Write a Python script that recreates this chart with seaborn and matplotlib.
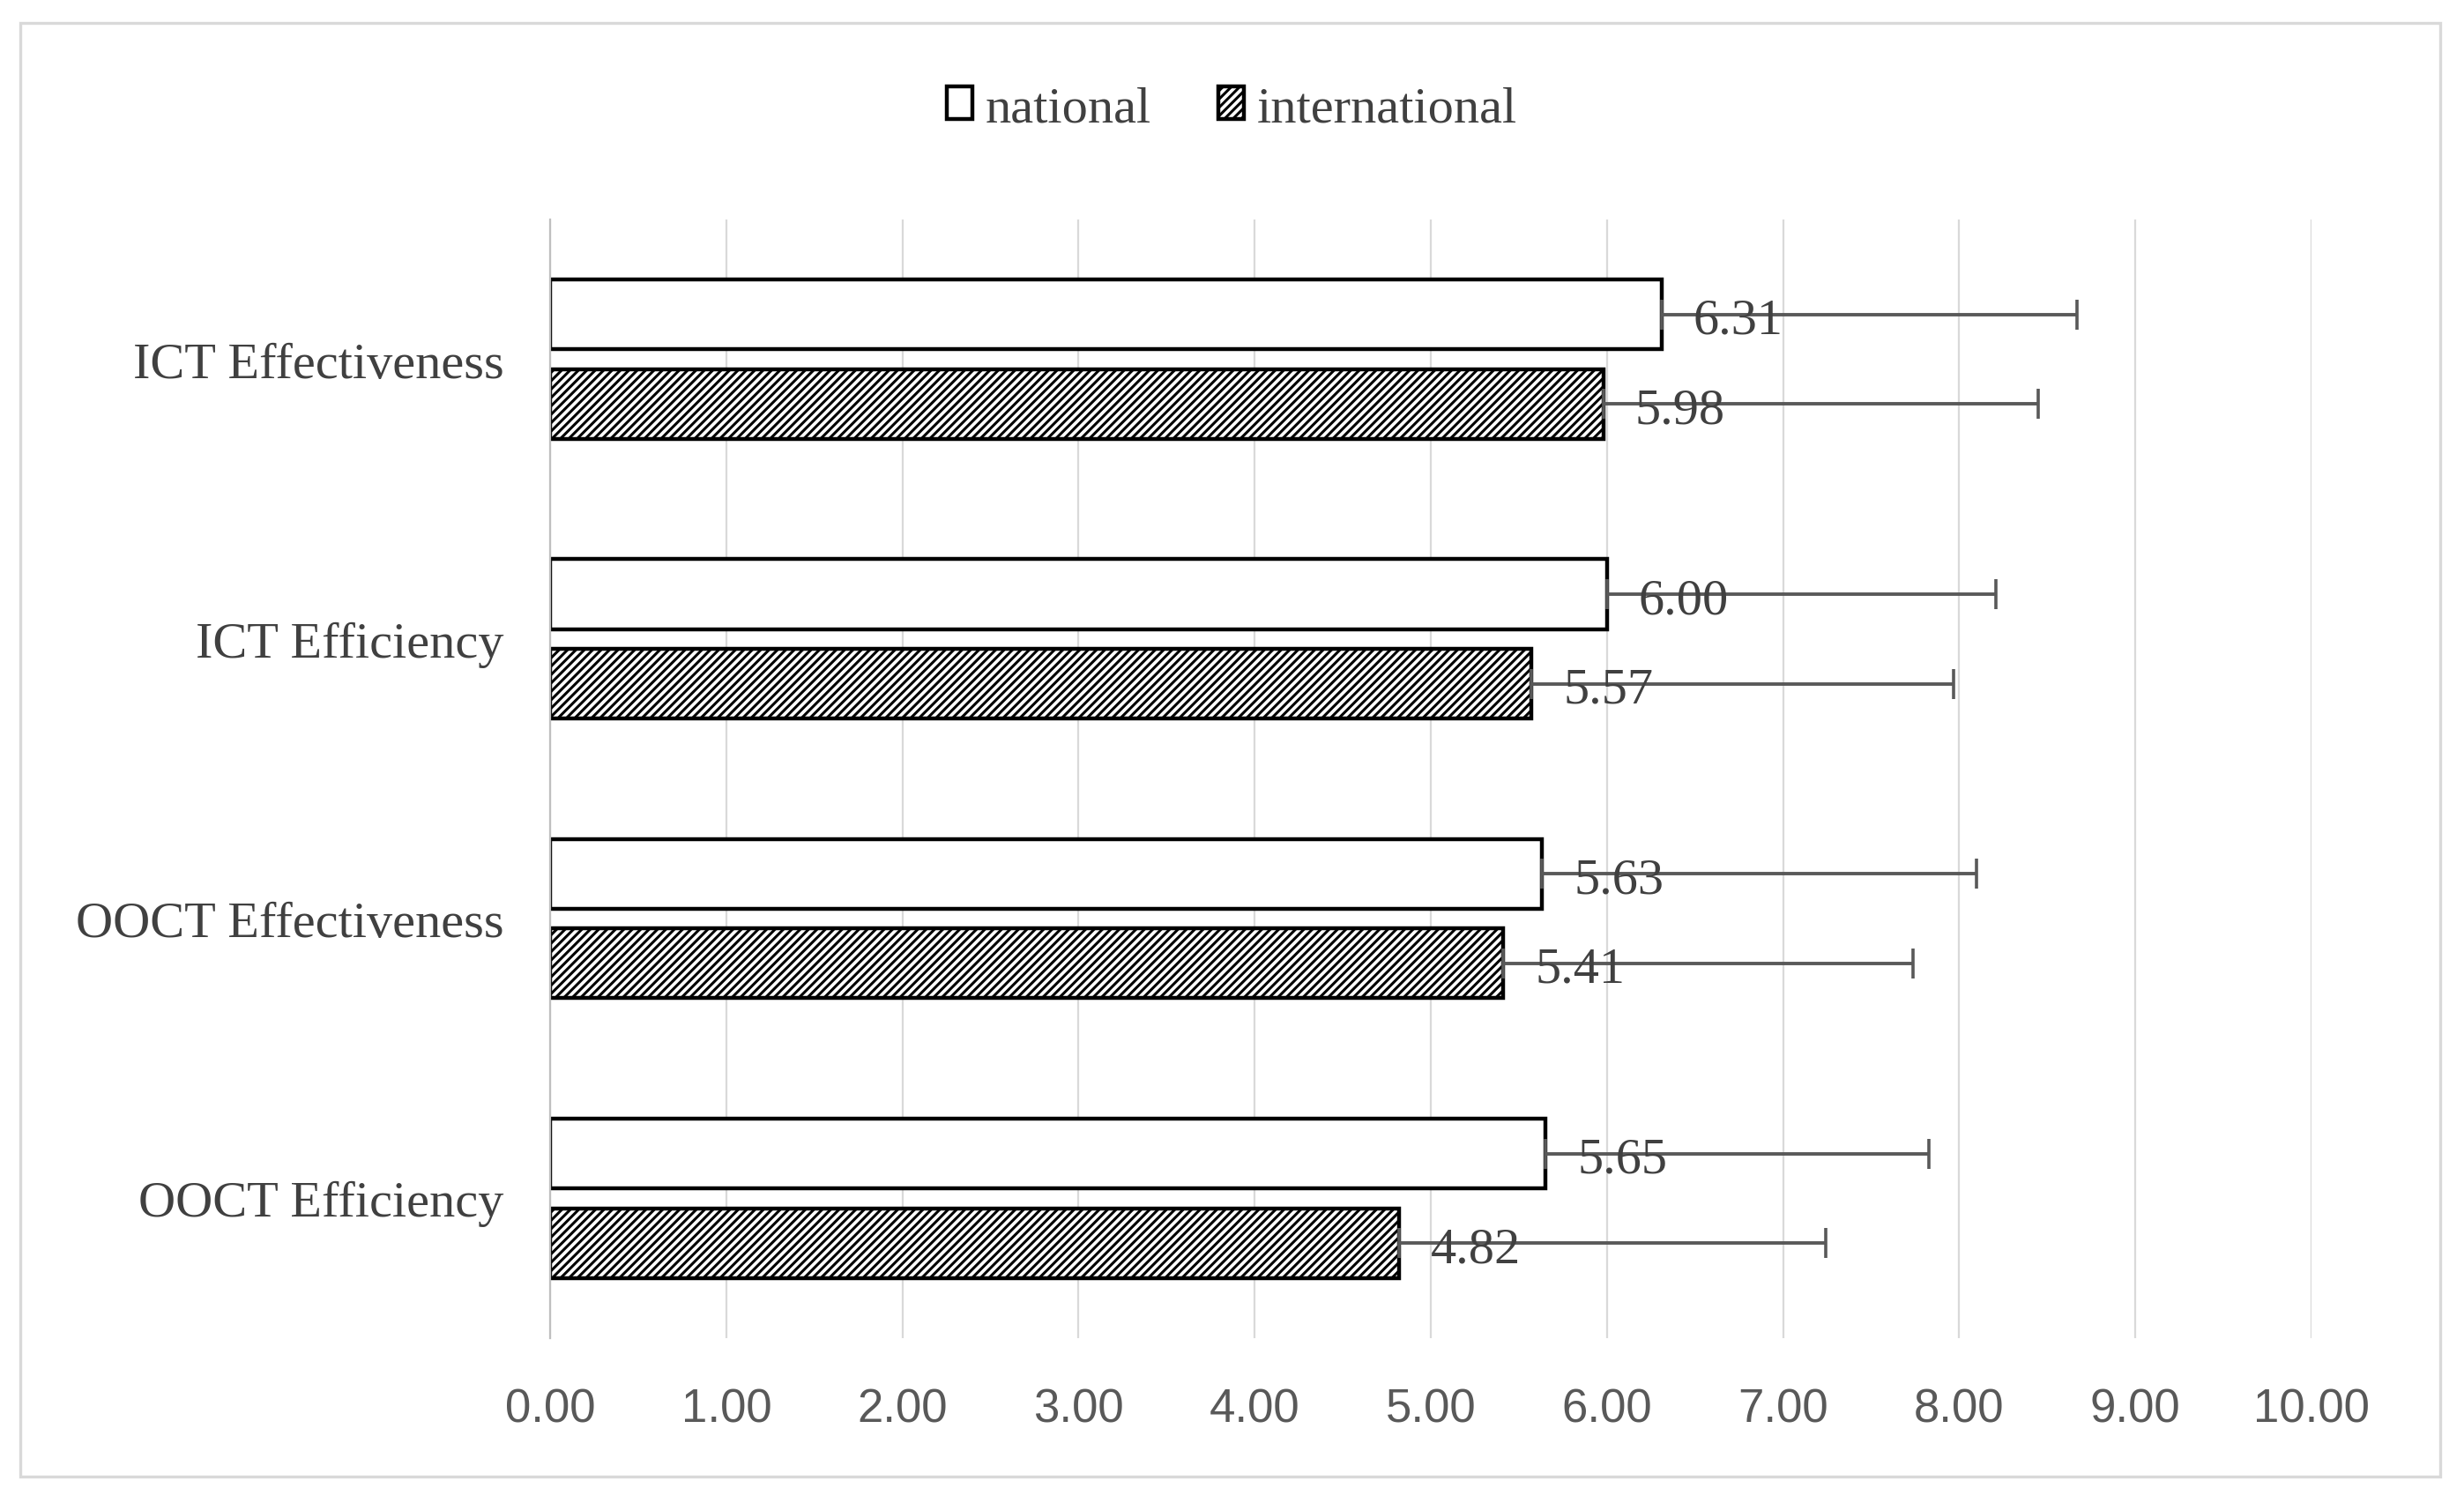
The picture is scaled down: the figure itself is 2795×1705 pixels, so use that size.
import matplotlib
matplotlib.use("Agg")
import pandas as pd
import seaborn as sns
import matplotlib.pyplot as plt
from matplotlib.patches import Rectangle

# values
categories = ["ICT Effectiveness", "ICT Efficiency", "OOCT Effectiveness", "OOCT Efficiency"]
groups = ["national", "international"]
national = [6.31, 6.00, 5.63, 5.65]
international = [5.98, 5.57, 5.41, 4.82]
national_sd = [2.36, 2.21, 2.47, 2.18]
international_sd = [2.47, 2.40, 2.33, 2.42]
xticks = [0, 1, 2, 3, 4, 5, 6, 7, 8, 9, 10]

df = pd.DataFrame({
    "category": categories * 2,
    "group": [groups[0]] * len(categories) + [groups[1]] * len(categories),
    "value": national + international,
})

sns.set_style("white")
plt.rcParams["hatch.linewidth"] = 1.1
serif = "Liberation Serif"
text_col = "#404040"

fig = plt.figure(figsize=(13.975, 8.53), dpi=200)
ax = fig.add_axes([0.2233, 0.1096, 0.7148, 0.7439])

sns.barplot(data=df, x="value", y="category", hue="group", orient="h",
            order=categories, hue_order=groups, palette=["white", "white"],
            width=0.64, gap=0.22, edgecolor="black", linewidth=1.6,
            errorbar=None, legend=False, ax=ax, zorder=2)

bars_nat, bars_int = ax.containers[0], ax.containers[1]
for p in bars_int:
    p.set_hatch("///////")

# error bars (plus side only) and value labels
for bars, sd in zip([bars_nat, bars_int], [national_sd, international_sd]):
    xs = [p.get_width() for p in bars]
    ys = [p.get_y() + p.get_height() / 2 for p in bars]
    ax.errorbar(xs, ys, xerr=[[0] * len(sd), sd], fmt="none", ecolor="#595959",
                elinewidth=1.4, capsize=6, capthick=1.3, zorder=3)
    labels = ax.bar_label(bars, fmt="%.2f", padding=13, fontsize=21, color=text_col,
                          family=serif, zorder=4)
    for t in labels:
        t.xyann = (t.xyann[0], t.xyann[1] - 2.5)

ax.set_xlim(0, 10)
ax.set_ylim(3.5, -0.5)
ax.set_xticks(xticks)
ax.set_xticklabels([f"{v:.2f}" for v in xticks], family="Liberation Sans",
                   fontsize=19, color="#595959")
ax.set_yticks(range(len(categories)))
ax.set_yticklabels(categories, family=serif, fontsize=21, color=text_col)
ax.set_yticks([i - 0.5 for i in range(len(categories) + 1)], minor=True)
ax.tick_params(axis="y", which="major", length=0, pad=19)
ax.tick_params(axis="y", which="minor", length=5, width=0.8, color="#bfbfbf", direction="out")
ax.tick_params(axis="x", length=0, pad=20)
ax.set_xlabel("")
ax.set_ylabel("")

for s in ["top", "right", "bottom"]:
    ax.spines[s].set_visible(False)
ax.spines["left"].set_color("#bfbfbf")
ax.spines["left"].set_linewidth(0.8)

ax.set_axisbelow(True)
ax.xaxis.grid(True, color="#d9d9d9", lw=0.8)
ax.yaxis.grid(False)

fig.legend(handles=[bars_nat, bars_int], labels=groups, loc="center",
           bbox_to_anchor=(0.5, 0.927), ncol=2, frameon=False,
           handlelength=0.5, handleheight=0.6, handletextpad=0.25,
           columnspacing=1.3, prop={"family": serif, "size": 21},
           labelcolor=text_col)

# light outer frame
fig.add_artist(Rectangle((23 / 2795, 1 - 1676 / 1706), (2768 - 23) / 2795,
                         (1676 - 27) / 1706, transform=fig.transFigure,
                         fill=False, edgecolor="#d9d9d9", lw=1.2))

fig.savefig("out.png", dpi=200)
